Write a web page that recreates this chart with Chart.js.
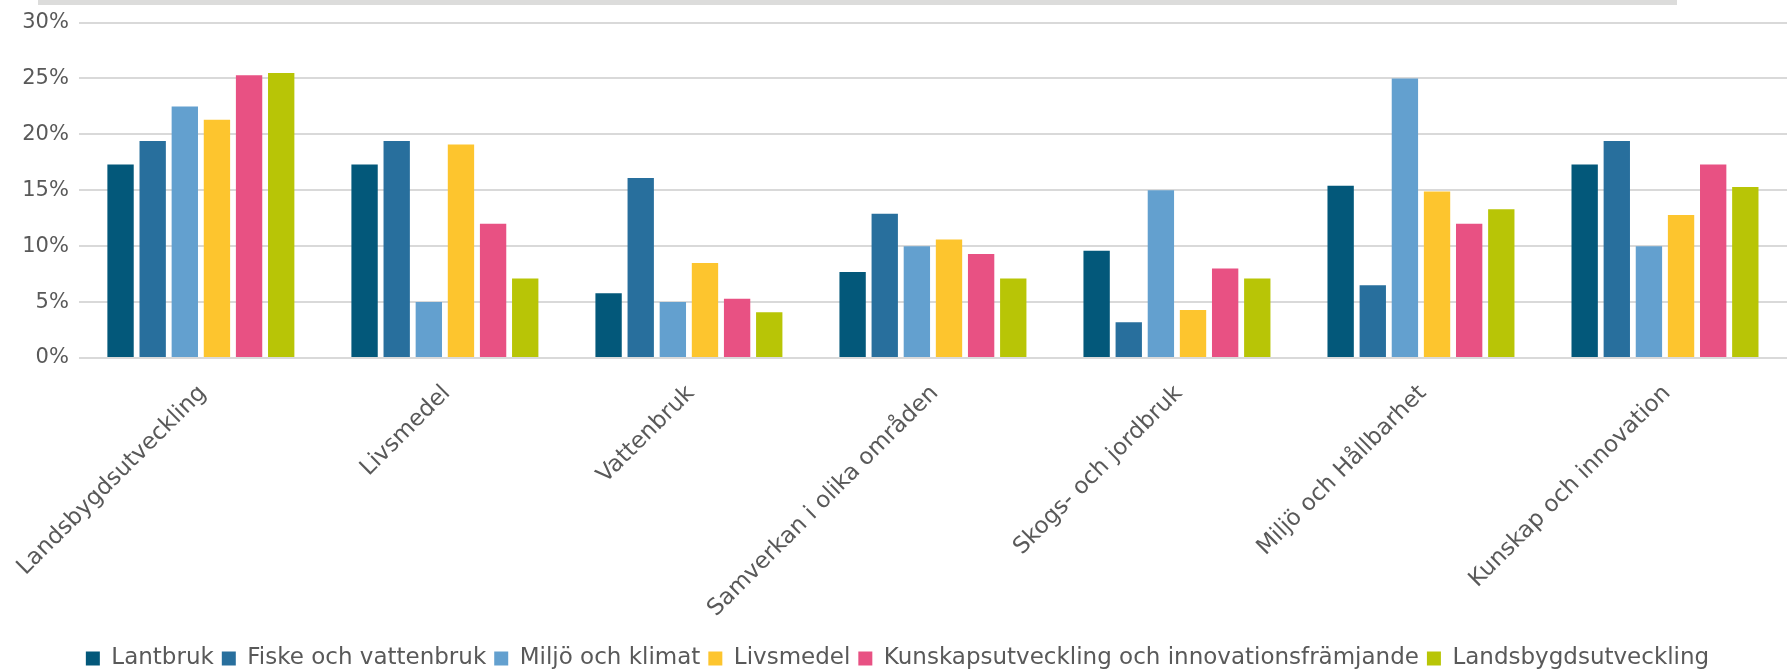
<!DOCTYPE html>
<html>
<head>
<meta charset="utf-8">
<script src="https://cdn.jsdelivr.net/npm/chart.js@4/dist/chart.umd.min.js"></script>
<style>
  html, body { margin: 0; padding: 0; background: #fff; }
  #wrap { position: relative; width: 1791px; height: 671px; }
  #topband { position: absolute; left: 38px; top: 0; width: 1639px; height: 5px; background: #dcdcdb; }
  canvas { position: absolute; left: 0; top: 0; }
</style>
</head>
<body>
<div id="wrap">
  <canvas id="chart" width="1791" height="671"></canvas>
  <div id="topband"></div>
</div>
<script>
  // categories on the x axis
  const categories = [
    'Landsbygdsutveckling', 'Livsmedel', 'Vattenbruk', 'Samverkan i olika områden',
    'Skogs- och jordbruk', 'Miljö och Hållbarhet', 'Kunskap och innovation'
  ];
  const yTicks = [0, 5, 10, 15, 20, 25, 30];

  // one series per group of respondents (percent)
  const lantbruk = [17.3, 17.3, 5.8, 7.7, 9.6, 15.4, 17.3];
  const fiske = [19.4, 19.4, 16.1, 12.9, 3.2, 6.5, 19.4];
  const miljo = [22.5, 5.0, 5.0, 10.0, 15.0, 25.0, 10.0];
  const livsmedel = [21.3, 19.1, 8.5, 10.6, 4.3, 14.9, 12.8];
  const kunskap = [25.3, 12.0, 5.3, 9.3, 8.0, 12.0, 17.3];
  const landsbygd = [25.5, 7.1, 4.1, 7.1, 7.1, 13.3, 15.3];

  const seriesNames = ['Lantbruk', 'Fiske och vattenbruk', 'Miljö och klimat', 'Livsmedel',
    'Kunskapsutveckling och innovationsfrämjande', 'Landsbygdsutveckling'];
  const seriesColors = ['#03587a', '#286f9d', '#63a0cf', '#fdc52e', '#e85183', '#b8c506'];
  const seriesData = [lantbruk, fiske, miljo, livsmedel, kunskap, landsbygd];

  const FONT = '"DejaVu Sans", sans-serif';
  const TEXT = '#595959';

  new Chart(document.getElementById('chart'), {
    type: 'bar',
    data: {
      labels: categories,
      datasets: seriesData.map((d, i) => ({
        label: seriesNames[i],
        data: d,
        backgroundColor: seriesColors[i],
        borderWidth: 0,
        barPercentage: 0.82,
        categoryPercentage: 0.79,
      })),
    },
    options: {
      responsive: false,
      animation: false,
      layout: { padding: { left: 8, right: 4, top: 6, bottom: -9 } },
      plugins: {
        tooltip: { enabled: false },
        legend: {
          position: 'bottom',
          labels: {
            color: TEXT,
            font: { family: FONT, size: 23 },
            boxWidth: 14,
            boxHeight: 14,
            padding: 8,
          },
        },
      },
      scales: {
        x: {
          afterFit(scale) { scale.height = 281; },
          grid: { display: false },
          border: { display: false },
          ticks: {
            color: TEXT,
            font: { family: FONT, size: 23 },
            minRotation: 45,
            maxRotation: 45,
            padding: 14,
            labelOffset: 2,
          },
        },
        y: {
          min: 0,
          max: 30,
          afterBuildTicks(scale) { scale.ticks = yTicks.map(v => ({ value: v })); },
          grid: { color: '#d9d9d9', lineWidth: 2, drawTicks: false },
          border: { display: false },
          ticks: {
            color: TEXT,
            font: { family: FONT, size: 21 },
            padding: 10,
            callback: v => v + '%',
          },
        },
      },
    },
  });
</script>
</body>
</html>
